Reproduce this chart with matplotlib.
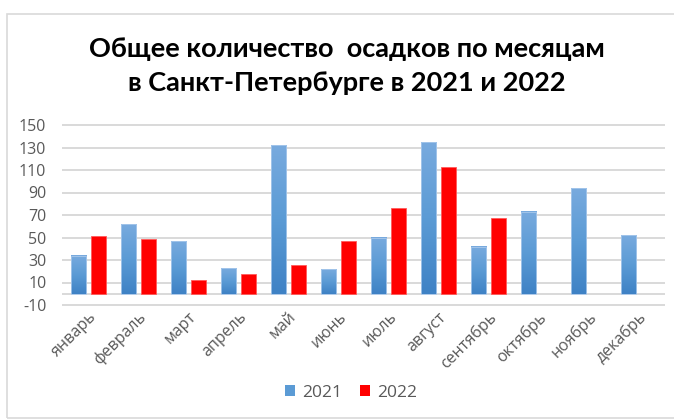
import numpy as np
import matplotlib
matplotlib.use("Agg")
import matplotlib.pyplot as plt
from matplotlib.colors import LinearSegmentedColormap
from matplotlib.patches import Rectangle, Patch
import matplotlib.transforms as mtransforms

months = ["январь", "февраль", "март", "апрель", "май", "июнь",
          "июль", "август", "сентябрь", "октябрь", "ноябрь", "декабрь"]
rain_2021 = [34, 62, 47, 23, 132, 22, 50, 135, 42, 73, 94, 52]
rain_2022 = [51, 49, 12, 18, 26, 47, 76, 113, 67, None, None, None]
y_ticks = [-10, 10, 30, 50, 70, 90, 110, 130, 150]
series_names = ["2021", "2022"]
title_lines = ["Общее количество  осадков по месяцам",
               "в Санкт-Петербурге в 2021 и 2022"]

W, H = 674, 420
fig = plt.figure(figsize=(W / 100, H / 100), dpi=100)
plt.rcParams["font.family"] = ["Open Sans", "DejaVu Sans"]

grid_c = "#d9d9d9"
text_c = "#595959"
blue = "#5b9bd5"
red = "#ff0000"

# outer chart frame
fig.patches.append(Rectangle((7 / W, 2 / H), 1.2, (418 - 14) / H,
                             transform=fig.transFigure, fill=False,
                             edgecolor=grid_c, linewidth=1.2))

ax = fig.add_axes([63 / W, 1 - 305 / H, (664 - 63) / W, 180 / H])
ax.set_xlim(-0.5, len(months) - 0.5)
ax.set_ylim(-10, 150)
for s in ax.spines.values():
    s.set_visible(False)

for v in y_ticks + [0]:
    ax.axhline(v, color=grid_c, linewidth=1.4, zorder=0, clip_on=False)

x = np.arange(len(months))
bw = 0.3
off = 0.2

grad = LinearSegmentedColormap.from_list("g", ["#3f82c5", "#5b9bd5", "#78aade"])
grad_img = np.linspace(0, 1, 64).reshape(-1, 1)

for i, v in enumerate(rain_2021):
    x0 = x[i] - off - bw / 2
    ax.imshow(grad_img, cmap=grad, origin="lower", aspect="auto",
              extent=[x0, x0 + bw, 0, v], zorder=2, interpolation="bilinear")
    ax.add_patch(Rectangle((x0, 0), bw, v, fill=False,
                           edgecolor="#a9c9ec", linewidth=0.6, zorder=3))

for i, v in enumerate(rain_2022):
    if v is None:
        continue
    ax.bar(x[i] + off, v, width=bw, color=red, edgecolor="#ff5a5a",
           linewidth=0.6, zorder=2)

ax.set_xlim(-0.5, len(months) - 0.5)
ax.set_ylim(-10, 150)
ax.set_yticks(y_ticks)
ax.set_yticklabels([str(t) for t in y_ticks], color=text_c, fontsize=11.5)
ax.tick_params(axis="y", length=0, pad=12)
ax.set_xticks(x)
ax.set_xticklabels(months, rotation=45, ha="right", va="top",
                   rotation_mode="anchor", color=text_c, fontsize=11.5)
shift = mtransforms.ScaledTranslation(3 / 100, 0, fig.dpi_scale_trans)
for lab in ax.get_xticklabels():
    lab.set_transform(lab.get_transform() + shift)
ax.tick_params(axis="x", length=0, pad=3)

for k, yy in enumerate([49, 83]):
    fig.text(347 / W, 1 - yy / H, title_lines[k], ha="center", va="center",
             fontsize=19.5, fontweight="bold", family=["Lato", "DejaVu Sans"])

handles = [Patch(facecolor=blue, edgecolor="none"),
           Patch(facecolor=red, edgecolor="none")]
fig.legend(handles, series_names, loc="center", ncol=2,
           bbox_to_anchor=(351 / W, 1 - 393 / H), frameon=False,
           handlelength=0.6, handleheight=0.6, handletextpad=0.4,
           columnspacing=1.0, labelcolor=text_c, fontsize=12.5)

fig.savefig("out.png", dpi=100)
